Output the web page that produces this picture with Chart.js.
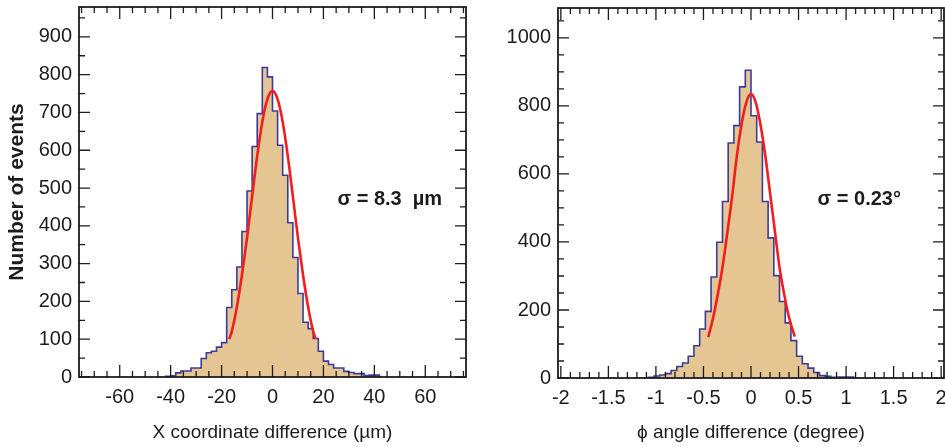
<!DOCTYPE html>
<html>
<head>
<meta charset="utf-8">
<script src="https://cdn.jsdelivr.net/npm/chart.js@4.4.1/dist/chart.umd.min.js"></script>
<style>
  html, body { margin: 0; padding: 0; background: #fff; }
  #wrap { position: relative; width: 945px; height: 447px; }
  .panel { position: absolute; top: 0; }
</style>
</head>
<body>
<div id="wrap">
  <div class="panel" style="left:0"><canvas id="chartX" width="480" height="447"></canvas></div>
  <div class="panel" style="left:480px"><canvas id="chartPhi" width="465" height="447"></canvas></div>
</div>
<script>
const FONT = "'Liberation Sans Narrow', 'Liberation Sans', Arial, sans-serif";
const INK  = '#1c1c1c';
const FILL = '#E5C592';
const EDGE = '#3B3B9E';
const FIT  = '#F21E1E';

// X coordinate difference, 2 um bins (edges, then counts per bin)
const X_EDGES  = [-42,-40,-38,-36,-34,-32,-30,-28,-26,-24,-22,-20,-18,-16,-14,-12,-10,-8,-6,-4,-2,
                  0,2,4,6,8,10,12,14,16,18,20,22,24,26,28,30,32,34,36,38,40,42];
const X_COUNTS = [2,2,3,11,16,16,24,24,49,64,68,79,91,184,231,291,385,492,610,697,819,
                  794,704,613,534,408,316,221,145,128,102,68,42,33,24,24,15,12,9,9,4,5];
const X_FIT_X  = [-17,-16,-14,-12,-10,-8,-6,-4,-2,0,2,4,6,8,10,12,14,16,17];
const X_FIT_Y  = [100,120,185,270,368,478,585,675,735,757,735,675,585,478,368,270,185,120,100];
const X_TICKS  = [-60,-40,-20,0,20,40,60];
const X_YTICKS = [0,100,200,300,400,500,600,700,800,900];

// phi angle difference, 0.06 degree bins
const PHI_EDGES  = [-1.14,-1.08,-1.02,-0.96,-0.90,-0.84,-0.78,-0.72,-0.66,-0.60,-0.54,-0.48,-0.42,-0.36,-0.30,-0.24,-0.18,-0.12,-0.06,
                    0,0.06,0.12,0.18,0.24,0.30,0.36,0.42,0.48,0.54,0.60,0.66,0.72,0.78,0.84,0.90,0.96,1.02,1.08];
const PHI_COUNTS = [2,0,2,6,9,13,22,34,44,64,95,144,196,297,399,519,691,742,856,
                    905,771,694,519,412,301,225,162,110,64,42,29,16,7,5,2,3,3];
const PHI_FIT_X  = [-0.45,-0.40,-0.35,-0.30,-0.25,-0.20,-0.15,-0.10,-0.05,0,0.05,0.10,0.15,0.20,0.25,0.30,0.35,0.40,0.46];
const PHI_FIT_Y  = [120,175,245,325,425,530,650,745,810,835,810,745,655,545,435,325,245,178,122];
const PHI_TICKS  = [-2,-1.5,-1,-0.5,0,0.5,1,1.5,2];
const PHI_YTICKS = [0,200,400,600,800,1000];

function stepPoints(edges, counts) {
  const pts = [{ x: edges[0], y: 0 }];
  counts.forEach((c, i) => pts.push({ x: edges[i], y: c }));
  const last = edges[edges.length - 1];
  pts.push({ x: last, y: counts[counts.length - 1] });
  pts.push({ x: last, y: 0 });
  return pts;
}

// ROOT-like frame: box with inner ticks on all four sides, plus the sigma note
const framePlugin = {
  id: 'frame',
  afterDatasetsDraw(chart, args, o) {
    const { ctx, chartArea: a, scales: { x, y } } = chart;
    ctx.save();
    ctx.strokeStyle = INK;
    ctx.lineWidth = 1.3;
    ctx.beginPath();
    const xTick = (v, len) => {
      const p = x.getPixelForValue(v);
      ctx.moveTo(p, a.bottom); ctx.lineTo(p, a.bottom - len);
      ctx.moveTo(p, a.top);    ctx.lineTo(p, a.top + len);
    };
    const yTick = (v, len) => {
      const p = y.getPixelForValue(v);
      ctx.moveTo(a.left, p);  ctx.lineTo(a.left + len, p);
      ctx.moveTo(a.right, p); ctx.lineTo(a.right - len, p);
    };
    for (let k = Math.ceil(x.min / o.xMinor); k * o.xMinor <= x.max; k++) xTick(k * o.xMinor, 6);
    for (let k = Math.ceil(y.min / o.yMinor); k * o.yMinor <= y.max; k++) yTick(k * o.yMinor, 6);
    o.xMajor.forEach(v => xTick(v, 12));
    o.yMajor.forEach(v => yTick(v, 11));
    ctx.stroke();
    ctx.lineWidth = 1.8;
    ctx.strokeRect(a.left, a.top, a.width, a.height);

    ctx.fillStyle = INK;
    ctx.font = 'bold 20px ' + FONT;
    ctx.textBaseline = 'middle';
    ctx.textAlign = 'left';
    ctx.fillText(o.note, x.getPixelForValue(o.noteX), y.getPixelForValue(o.noteY));
    ctx.restore();
  }
};

function histChart(id, o) {
  return new Chart(document.getElementById(id), {
    type: 'line',
    data: {
      datasets: [
        {
          data: stepPoints(o.edges, o.counts),
          stepped: 'after',
          fill: 'origin',
          backgroundColor: FILL,
          borderColor: EDGE,
          borderWidth: 1.6,
          pointRadius: 0,
          order: 2
        },
        {
          data: o.fitX.map((v, i) => ({ x: v, y: o.fitY[i] })),
          borderColor: FIT,
          borderWidth: 2.6,
          pointRadius: 0,
          fill: false,
          cubicInterpolationMode: 'monotone',
          order: 1
        }
      ]
    },
    options: {
      responsive: false,
      animation: false,
      events: [],
      layout: { padding: o.pad },
      plugins: {
        legend: { display: false },
        tooltip: { enabled: false },
        frame: {
          xMajor: o.xTicks, xMinor: o.xMinor,
          yMajor: o.yTicks, yMinor: o.yMinor,
          note: o.note, noteX: o.noteX, noteY: o.noteY
        }
      },
      scales: {
        x: {
          type: 'linear',
          min: o.xMin, max: o.xMax,
          grid: { display: false, drawTicks: false },
          border: { display: false },
          afterBuildTicks: s => { s.ticks = o.xTicks.map(v => ({ value: v })); },
          afterFit: s => { s.height = o.xAxisH; s.paddingLeft = 0; s.paddingRight = 0; },
          ticks: {
            autoSkip: false, maxRotation: 0, padding: 8,
            color: INK, font: { family: FONT, size: 20 },
            callback: v => String(v)
          },
          title: {
            display: true, text: o.xTitle, color: INK,
            font: { family: FONT, size: 19 },
            padding: { top: 0, bottom: 3 }
          }
        },
        y: {
          min: 0, max: o.yMax,
          grid: { display: false, drawTicks: false },
          border: { display: false },
          afterBuildTicks: s => { s.ticks = o.yTicks.map(v => ({ value: v })); },
          afterFit: s => { s.width = o.yAxisW; s.paddingTop = 0; s.paddingBottom = 0; },
          ticks: {
            autoSkip: false, padding: 7,
            color: INK, font: { family: FONT, size: 20 },
            callback: v => String(v)
          },
          title: {
            display: !!o.yTitle, text: o.yTitle || '', color: INK,
            font: { family: "'Liberation Sans', Arial, sans-serif", size: 21, weight: 'bold' },
            padding: { top: 5, bottom: 4 }
          }
        }
      }
    },
    plugins: [framePlugin]
  });
}

histChart('chartX', {
  edges: X_EDGES, counts: X_COUNTS, fitX: X_FIT_X, fitY: X_FIT_Y,
  xMin: -76, xMax: 76, yMax: 979,
  xTicks: X_TICKS, xMinor: 5, yTicks: X_YTICKS, yMinor: 50,
  xTitle: 'X coordinate difference (\u00b5m)', yTitle: 'Number of events',
  note: '\u03c3 = 8.3  \u00b5m', noteX: 25.5, noteY: 470,
  pad: { top: 7, right: 14, left: 0, bottom: 0 }, xAxisH: 70, yAxisW: 79
});

histChart('chartPhi', {
  edges: PHI_EDGES, counts: PHI_COUNTS, fitX: PHI_FIT_X, fitY: PHI_FIT_Y,
  xMin: -2.03, xMax: 2.03, yMax: 1088,
  xTicks: PHI_TICKS, xMinor: 0.1, yTicks: PHI_YTICKS, yMinor: 50,
  xTitle: '\u03d5 angle difference (degree)', yTitle: '',
  note: '\u03c3 = 0.23\u00b0', noteX: 0.70, noteY: 524,
  pad: { top: 8, right: 1, left: 0, bottom: 0 }, xAxisH: 69, yAxisW: 78
});
</script>
</body>
</html>
